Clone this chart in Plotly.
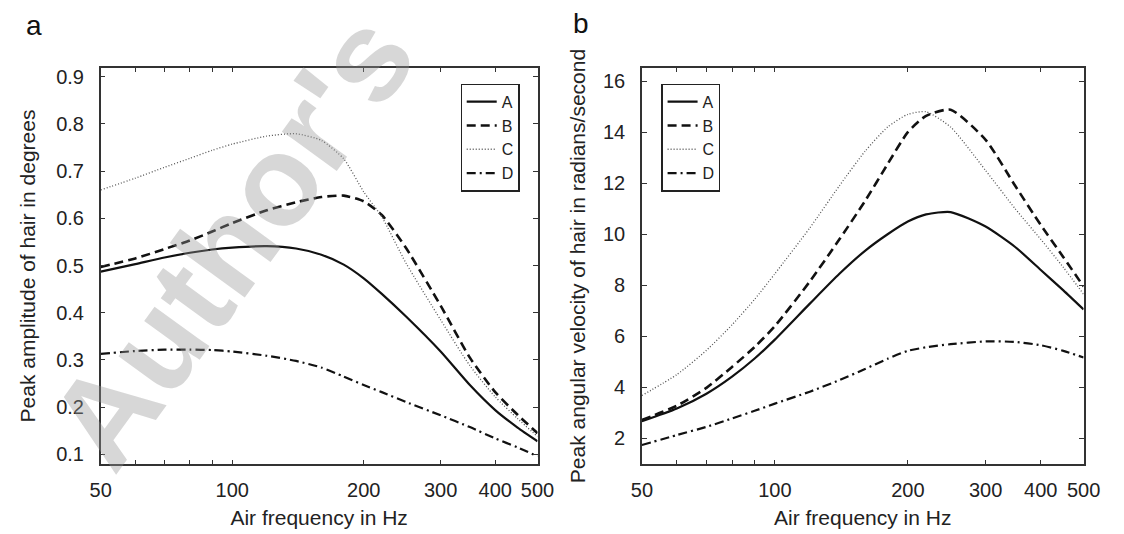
import numpy as np
import plotly.graph_objects as go

freq = [50, 60, 70, 80, 90, 100, 120, 140, 160, 180, 200, 220, 250, 300, 350, 400, 450, 500]

# Panel a: peak amplitude of hair (degrees)
amp_A = [0.487, 0.503, 0.517, 0.527, 0.534, 0.538, 0.541, 0.536, 0.523, 0.502, 0.473, 0.440, 0.392, 0.318, 0.247, 0.194, 0.157, 0.128]
amp_B = [0.497, 0.515, 0.535, 0.553, 0.572, 0.590, 0.617, 0.634, 0.645, 0.648, 0.636, 0.607, 0.537, 0.415, 0.305, 0.232, 0.184, 0.145]
amp_C = [0.660, 0.685, 0.708, 0.727, 0.744, 0.757, 0.774, 0.779, 0.765, 0.726, 0.656, 0.603, 0.505, 0.385, 0.288, 0.222, 0.176, 0.138]
amp_D = [0.313, 0.319, 0.322, 0.322, 0.321, 0.318, 0.309, 0.298, 0.284, 0.265, 0.247, 0.232, 0.211, 0.183, 0.158, 0.134, 0.115, 0.096]

# Panel b: peak angular velocity of hair (rad/s)
vel_A = [2.67, 3.17, 3.75, 4.42, 5.13, 5.87, 7.28, 8.45, 9.35, 10.0, 10.5, 10.78, 10.87, 10.3, 9.5, 8.6, 7.8, 7.05]
vel_B = [2.72, 3.28, 3.98, 4.80, 5.58, 6.40, 8.15, 9.80, 11.3, 12.75, 14.0, 14.64, 14.88, 13.7, 11.9, 10.36, 9.1, 7.95]
vel_C = [3.68, 4.50, 5.45, 6.45, 7.45, 8.45, 10.25, 11.9, 13.25, 14.2, 14.7, 14.8, 14.2, 12.5, 11.0, 9.8, 8.7, 7.65]
vel_D = [1.74, 2.13, 2.45, 2.78, 3.08, 3.36, 3.83, 4.28, 4.72, 5.12, 5.43, 5.57, 5.69, 5.80, 5.78, 5.65, 5.43, 5.17]

series_names = ["A", "B", "C", "D"]
x_tickvals = [50, 60, 70, 80, 90, 100, 200, 300, 400, 500]
x_ticktext = ["50", "", "", "", "", "100", "200", "300", "400", "500"]
amp_ticks = [0.1, 0.2, 0.3, 0.4, 0.5, 0.6, 0.7, 0.8, 0.9]
vel_ticks = [2, 4, 6, 8, 10, 12, 14, 16]

styles = {
    "A": dict(color="#111111", width=2.2, dash="solid"),
    "B": dict(color="#111111", width=2.6, dash="9px,5px"),
    "C": dict(color="#555555", width=1.3, dash="1px,2px"),
    "D": dict(color="#111111", width=2.2, dash="9px,4px,2px,4px"),
}

FONT = "Liberation Sans, Arial, Helvetica, sans-serif"
fig = go.Figure()

for name, ys in zip(series_names, [amp_A, amp_B, amp_C, amp_D]):
    fig.add_trace(go.Scatter(x=freq, y=ys, mode="lines", name=name,
                             line=dict(shape="spline", smoothing=0.6, **styles[name]),
                             xaxis="x", yaxis="y", legend="legend"))
for name, ys in zip(series_names, [vel_A, vel_B, vel_C, vel_D]):
    fig.add_trace(go.Scatter(x=freq, y=ys, mode="lines", name=name,
                             line=dict(shape="spline", smoothing=0.6, **styles[name]),
                             xaxis="x2", yaxis="y2", legend="legend2"))

W, H = 1124, 534
def px_x(p):
    return p / W
def px_y(p):
    return 1 - p / H

common_axis = dict(showline=True, linecolor="#333333", linewidth=1.5, mirror="ticks",
                   ticks="inside", ticklen=5, tickwidth=1.2, tickcolor="#333333",
                   showgrid=False, zeroline=False,
                   tickfont=dict(family=FONT, size=20, color="#222222"))

xcommon = dict(common_axis, type="log", range=[np.log10(50), np.log10(500)],
               tickmode="array", tickvals=x_tickvals, ticktext=x_ticktext, ticklabelstandoff=7,
               title=dict(text="Air frequency in Hz", font=dict(family=FONT, size=21, color="#222222"), standoff=10))

legend_common = dict(xanchor="left", yanchor="top", bgcolor="white",
                     bordercolor="#222222", borderwidth=1.2,
                     font=dict(family=FONT, size=16, color="#222222"),
                     itemwidth=30, tracegroupgap=0)

fig.update_layout(
    width=W, height=H,
    margin=dict(l=0, r=0, t=0, b=0),
    paper_bgcolor="white", plot_bgcolor="rgba(0,0,0,0)",
    font=dict(family=FONT, color="#222222"),
    xaxis=dict(xcommon, domain=[px_x(92), px_x(540)], anchor="y"),
    xaxis2=dict(xcommon, domain=[px_x(647), px_x(1100)], anchor="y2"),
    yaxis=dict(common_axis, range=[0.079, 0.919], tickmode="array", tickvals=amp_ticks,
               ticktext=[f"{v:.1f}" for v in amp_ticks], ticklabelstandoff=11,
               domain=[px_y(465), px_y(66)], anchor="x",
               title=dict(text="Peak amplitude of hair in degrees",
                          font=dict(family=FONT, size=21, color="#222222"), standoff=15)),
    yaxis2=dict(common_axis, range=[0.98, 16.53], tickmode="array", tickvals=vel_ticks,
                ticktext=[str(v) for v in vel_ticks], ticklabelstandoff=11,
                domain=[px_y(465), px_y(66)], anchor="x2",
                title=dict(text="Peak angular velocity of hair in radians/second",
                           font=dict(family=FONT, size=21, color="#222222"), standoff=12)),
    legend=dict(legend_common, x=px_x(461), y=px_y(82)),
    legend2=dict(legend_common, x=px_x(667), y=px_y(82)),
    showlegend=True,
)

annotations = [
    dict(text="a", x=px_x(13), y=px_y(24), xref="paper", yref="paper", xanchor="left", yanchor="middle",
         showarrow=False, font=dict(family=FONT, size=28, color="#111111")),
    dict(text="b", x=px_x(574), y=px_y(22), xref="paper", yref="paper", xanchor="left", yanchor="middle",
         showarrow=False, font=dict(family=FONT, size=28, color="#111111")),
    dict(text="<b>Author's</b>", x=px_x(226), y=px_y(240), xref="paper", yref="paper",
         xanchor="center", yanchor="middle", textangle=-54, showarrow=False,
         font=dict(family=FONT, size=128, color="rgba(150,150,150,0.38)")),
]
fig.update_layout(annotations=annotations)

fig.write_html("out.html")
